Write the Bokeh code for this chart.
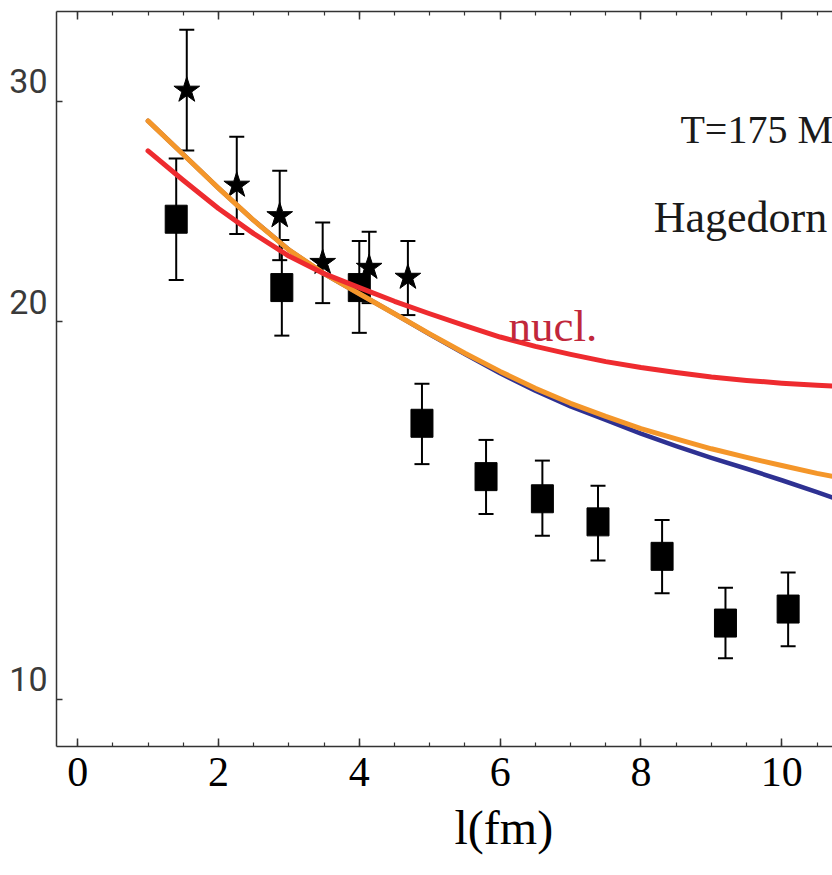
from bokeh.plotting import figure
from bokeh.models import (Range1d, FixedTicker, LinearAxis, Whisker, TeeHead,
                          ColumnDataSource, Label, Title)
from bokeh.embed import file_html
from bokeh.resources import INLINE

# ---- data ----
star_x = [1.55, 2.26, 2.87, 3.48, 4.14, 4.69]
star_y = [30.6, 25.7, 24.3, 22.3, 22.1, 21.7]
star_hi = [34.2, 28.1, 26.4, 24.0, 23.6, 23.2]
star_lo = [27.4, 23.5, 22.4, 20.7, 20.7, 20.25]

sq_x = [1.40, 2.90, 4.00, 4.89, 5.80, 6.60, 7.39, 8.30, 9.20, 10.09]
sq_y = [24.15, 21.3, 21.3, 16.6, 15.05, 14.45, 13.85, 13.0, 11.5, 11.8]
sq_hi = [27.0, 23.25, 23.2, 17.85, 16.1, 15.5, 14.8, 13.9, 12.27, 12.62]
sq_lo = [21.6, 19.5, 19.6, 15.4, 14.05, 13.5, 12.9, 12.15, 10.78, 11.02]

curve_x = [1.0, 1.5, 2.0, 2.5, 3.0, 3.5, 4.0, 4.5, 5.0, 5.5, 6.0, 6.5, 7.0,
           7.5, 8.0, 8.5, 9.0, 9.5, 10.0, 10.5, 10.8]
red_y = [27.38, 25.94, 24.63, 23.52, 22.57, 21.85, 21.30, 20.77, 20.30, 19.86,
         19.45, 19.12, 18.84, 18.59, 18.39, 18.22, 18.07, 17.96, 17.87, 17.80,
         17.77]
orange_y = [28.93, 27.20, 25.57, 24.10, 22.83, 21.85, 21.06, 20.30, 19.56,
            18.88, 18.26, 17.70, 17.22, 16.81, 16.44, 16.13, 15.84, 15.59,
            15.36, 15.14, 15.03]
blue_y = [28.93, 27.20, 25.57, 24.10, 22.83, 21.85, 21.06, 20.30, 19.55,
          18.85, 18.20, 17.62, 17.12, 16.70, 16.29, 15.92, 15.58, 15.27,
          14.95, 14.63, 14.43]

x_major = [0, 2, 4, 6, 8, 10]
x_minor = [i * 0.5 for i in range(0, 22)]
y_major = [10, 20, 30]
y_labels = {10: "10\n", 20: "20\n", 30: "30\n"}

AXC = "#333333"

p = figure(width=832, height=875, y_axis_type="log",
           x_range=Range1d(-0.30, 10.72), y_range=Range1d(9.167, 35.37),
           output_backend="svg", toolbar_location=None,
           min_border_left=56, min_border_right=0, min_border_top=11,
           min_border_bottom=129)
p.outline_line_color = None
p.xgrid.grid_line_color = None
p.ygrid.grid_line_color = None
p.background_fill_color = "white"

# bottom axis
xa = p.xaxis[0]
xa.ticker = FixedTicker(ticks=x_major, minor_ticks=x_minor)
xa.major_tick_in = 8
xa.major_tick_out = 0
xa.minor_tick_in = 4
xa.minor_tick_out = 0
xa.axis_line_color = AXC
xa.axis_line_width = 1.5
xa.major_tick_line_color = AXC
xa.major_tick_line_width = 1.5
xa.minor_tick_line_color = AXC
xa.minor_tick_line_width = 1.2
xa.major_label_text_font = "Liberation Serif"
xa.major_label_text_font_size = "42px"
xa.major_label_text_color = "black"
xa.major_label_standoff = 11

# top axis (ticks only)
top = LinearAxis(ticker=FixedTicker(ticks=x_major, minor_ticks=x_minor),
                 major_tick_in=8, major_tick_out=0, minor_tick_in=4,
                 minor_tick_out=0, axis_line_color=AXC,
                 axis_line_width=1.5, major_tick_line_color=AXC,
                 major_tick_line_width=1.5, minor_tick_line_color=AXC,
                 minor_tick_line_width=1.2, major_label_text_color=None,
                 major_label_standoff=0)
p.add_layout(top, "above")

# left axis
ya = p.yaxis[0]
ya.ticker = FixedTicker(ticks=y_major, minor_ticks=[])
ya.major_label_overrides = y_labels
ya.major_tick_in = 6
ya.major_tick_out = 0
ya.minor_tick_in = 0
ya.minor_tick_out = 0
ya.axis_line_color = AXC
ya.axis_line_width = 1.5
ya.major_tick_line_color = AXC
ya.major_tick_line_width = 1.5
ya.major_label_text_font = "Roboto"
ya.major_label_text_font_size = "34px"
ya.major_label_text_line_height = 1.0
ya.major_label_text_color = "#3a3a3a"
ya.major_label_standoff = 9

# error bars
star_src = ColumnDataSource(dict(x=star_x, y=star_y, hi=star_hi, lo=star_lo))
sq_src = ColumnDataSource(dict(x=sq_x, y=sq_y, hi=sq_hi, lo=sq_lo))
for src in (star_src, sq_src):
    w = Whisker(source=src, base="x", upper="hi", lower="lo",
                line_color="black", line_width=2,
                upper_head=TeeHead(size=15, line_width=2, line_color="black"),
                lower_head=TeeHead(size=15, line_width=2, line_color="black"))
    p.add_layout(w)

p.rect(x="x", y="y", width=22, height=28, width_units="screen",
       height_units="screen", source=sq_src, fill_color="black",
       line_color="black")
p.scatter(x="x", y="y", source=star_src, marker="star", size=27,
          fill_color="black", line_color="black")

# model curves
p.line(curve_x, blue_y, line_color="#2E3192", line_width=4.5,
       line_cap="round", line_join="round")
p.line(curve_x, orange_y, line_color="#F4962A", line_width=5,
       line_cap="round", line_join="round")
p.line(curve_x, red_y, line_color="#EE2B2F", line_width=5,
       line_cap="round", line_join="round")

# annotations
p.add_layout(Label(x=6.12, y=19.86, text="nucl.", text_font="Liberation Serif",
                   text_font_size="45px", text_color="#C1273B",
                   text_baseline="alphabetic"))
p.add_layout(Label(x=8.56, y=28.46, text="T=175 MeV",
                   text_font="Liberation Serif", text_font_size="40px",
                   text_color="#1a1a1a", text_baseline="alphabetic"))
p.add_layout(Label(x=8.18, y=24.23, text="Hagedorn",
                   text_font="Liberation Serif", text_font_size="44px",
                   text_color="#1a1a1a", text_baseline="alphabetic"))

p.add_layout(Title(text="l(fm)", align="left", offset=398, standoff=20,
                   text_font="Liberation Serif", text_font_size="48px",
                   text_font_style="normal", text_color="black"), "below")

open("out.html", "w").write(file_html(p, INLINE))
